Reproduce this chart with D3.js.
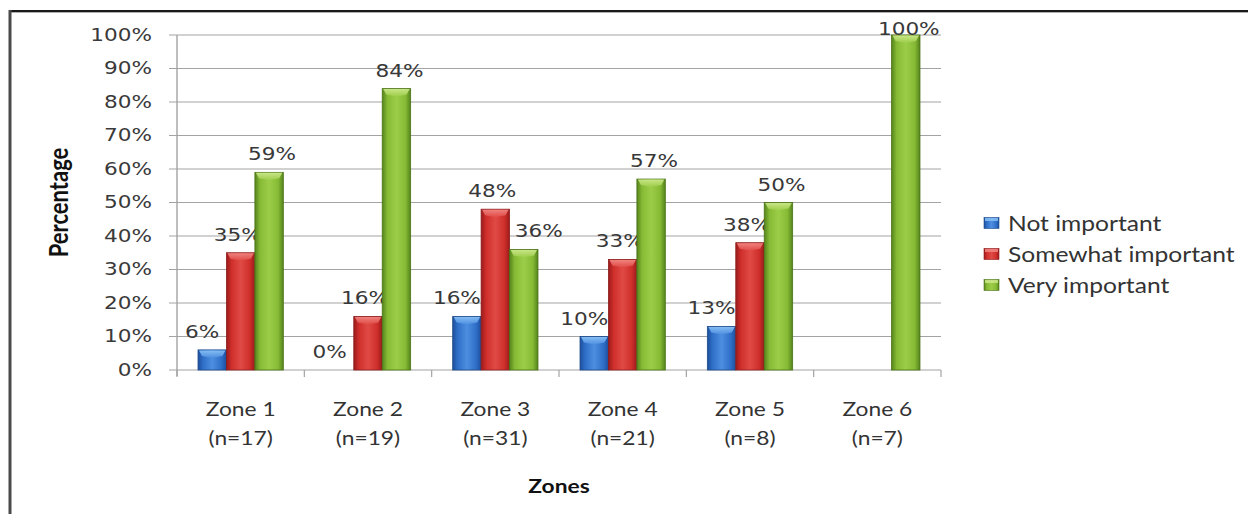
<!DOCTYPE html>
<html>
<head>
<meta charset="utf-8">
<script src="https://cdn.jsdelivr.net/npm/d3@7/dist/d3.min.js"></script>
<style>
  html, body { margin: 0; padding: 0; background: #fff; }
  svg { display: block; }
</style>
</head>
<body>
<svg id="chart" width="1248" height="514"></svg>
<script>
// Importance ratings by zone (percent of respondents)
const zones = ["Zone 1", "Zone 2", "Zone 3", "Zone 4", "Zone 5", "Zone 6"];
const zoneCounts = ["(n=17)", "(n=19)", "(n=31)", "(n=21)", "(n=8)", "(n=7)"];
const seriesNames = ["Not important", "Somewhat important", "Very important"];
const notImportant = [6, 0, 16, 10, 13, null];
const somewhatImportant = [35, 16, 48, 33, 38, null];
const veryImportant = [59, 84, 36, 57, 50, 100];
const yTicks = [0, 10, 20, 30, 40, 50, 60, 70, 80, 90, 100];

const seriesValues = [notImportant, somewhatImportant, veryImportant];

// Look of each series: edge / body / highlight / bevel colours, label nudge
const palette = [
  { edge: "#1d4f9c", base: "#2f6fc8", light: "#4d8ee0", bevel: "#8cc4f7", stroke: "#1d4a8a", dx: -10 },
  { edge: "#9a1b1b", base: "#cf2f2b", light: "#e04a45", bevel: "#f28a86", stroke: "#8c1c1c", dx: -3 },
  { edge: "#55831c", base: "#86ba35", light: "#9ccd48", bevel: "#cfe98f", stroke: "#4a7416", dx: 3 }
];

const SX = 1.2; // horizontal text stretch

const svg = d3.select("#chart");
const defs = svg.append("defs");

palette.forEach((p, i) => {
  const g = defs.append("linearGradient").attr("id", "body" + i)
    .attr("x1", "0").attr("x2", "1").attr("y1", "0").attr("y2", "0");
  [[0, p.edge], [0.18, p.base], [0.5, p.light], [0.82, p.base], [1, p.edge]]
    .forEach(([o, c]) => g.append("stop").attr("offset", o).attr("stop-color", c));
  const b = defs.append("linearGradient").attr("id", "bevel" + i)
    .attr("x1", "0").attr("x2", "0").attr("y1", "0").attr("y2", "1");
  b.append("stop").attr("offset", 0).attr("stop-color", p.bevel);
  b.append("stop").attr("offset", 1).attr("stop-color", p.light);
});

// Frame lines
svg.append("line").attr("x1", 9).attr("x2", 1248).attr("y1", 11).attr("y2", 11)
  .attr("stroke", "#1a1a1a").attr("stroke-width", 2);
svg.append("line").attr("x1", 9).attr("x2", 1248).attr("y1", 12.5).attr("y2", 12.5)
  .attr("stroke", "#b0b0b0").attr("stroke-width", 1);
svg.append("line").attr("x1", 10).attr("x2", 10).attr("y1", 10).attr("y2", 514)
  .attr("stroke", "#4a4a4a").attr("stroke-width", 3);

const plot = { left: 177, right: 941, top: 35, bottom: 370 };

const x0 = d3.scaleBand().domain(zones)
  .range([plot.left, plot.right]).paddingInner(0.33).paddingOuter(0.165);
const x1 = d3.scaleBand().domain(seriesNames).range([0, x0.bandwidth()]);
const y = d3.scaleLinear().domain([0, 100]).range([plot.bottom, plot.top]);

function stretchedText(parent, x, yy, str, opts) {
  const t = parent.append("text")
    .attr("transform", `translate(${x},${yy}) scale(${SX},1)`)
    .attr("text-anchor", opts.anchor || "middle")
    .attr("font-family", opts.family)
    .attr("font-size", opts.size)
    .attr("font-weight", opts.weight || "normal")
    .attr("fill", opts.fill || "#333")
    .text(str);
  if (opts.baseline) t.attr("dominant-baseline", opts.baseline);
  return t;
}

const numFont = "'DejaVu Sans', Verdana, sans-serif";
const txtFont = "Lato, 'Open Sans', sans-serif";

// Gridlines and value axis
const grid = svg.append("g");
yTicks.forEach(v => {
  grid.append("line")
    .attr("x1", plot.left - 8).attr("x2", plot.right)
    .attr("y1", y(v)).attr("y2", y(v))
    .attr("stroke", "#a3a3a3").attr("stroke-width", 1.2);
  stretchedText(grid, 152, y(v), v + "%", {
    anchor: "end", family: numFont, size: 18, fill: "#3a3a3a", baseline: "central"
  });
});
grid.append("line")
  .attr("x1", plot.left).attr("x2", plot.left)
  .attr("y1", plot.top).attr("y2", plot.bottom + 6)
  .attr("stroke", "#a3a3a3").attr("stroke-width", 1.4);

// Category axis ticks between zones
const step = x0.step();
d3.range(zones.length + 1).forEach(i => {
  const xx = plot.left + i * step;
  grid.append("line").attr("x1", xx).attr("x2", xx)
    .attr("y1", plot.bottom).attr("y2", plot.bottom + 7)
    .attr("stroke", "#a3a3a3").attr("stroke-width", 1.2);
});

// Bars
const bars = svg.append("g");
zones.forEach((z, zi) => {
  seriesNames.forEach((s, si) => {
    const v = seriesValues[si][zi];
    if (v === null || v === undefined) return;
    const bx = x0(z) + x1(s);
    const bw = x1.bandwidth();
    const top = y(v);
    const h = y(0) - top;
    if (h > 0) {
      bars.append("rect")
        .attr("x", bx).attr("y", top).attr("width", bw).attr("height", h)
        .attr("fill", `url(#body${si})`)
        .attr("stroke", palette[si].stroke).attr("stroke-width", 0.8);
      const bev = Math.min(8, h);
      bars.append("polygon")
        .attr("points", [
          [bx + 1, top + 0.5], [bx + bw - 1, top + 0.5],
          [bx + bw - 4, top + bev * 0.75], [bx + bw / 2, top + bev],
          [bx + 4, top + bev * 0.75]
        ].map(p => p.join(",")).join(" "))
        .attr("fill", `url(#bevel${si})`).attr("opacity", 0.9);
    }
    // value label; step aside when the bar to the left stands taller
    const prev = si > 0 ? seriesValues[si - 1][zi] : null;
    const shift = (prev !== null && prev > v + 5) ? 12 : 0;
    const ly = Math.max(top - 12, y(100));
    stretchedText(bars, bx + bw / 2 + palette[si].dx + shift, ly, v + "%", {
      family: numFont, size: 18, fill: "#383838"
    });
  });
});

// Category labels
zones.forEach((z, zi) => {
  const cx = x0(z) + x0.bandwidth() / 2;
  stretchedText(svg, cx, 408, z, { family: txtFont, size: 19, fill: "#333", baseline: "central" });
  stretchedText(svg, cx, 437, zoneCounts[zi], { family: txtFont, size: 19, fill: "#333", baseline: "central" });
});

// Axis titles
stretchedText(svg, (plot.left + plot.right) / 2, 485, "Zones", {
  family: txtFont, size: 19, weight: "bold", fill: "#111", baseline: "central"
});
svg.append("text")
  .attr("transform", `translate(58,${(plot.top + plot.bottom) / 2}) scale(${SX},1) rotate(-90)`)
  .attr("text-anchor", "middle").attr("dominant-baseline", "central")
  .attr("font-family", txtFont).attr("font-size", 22).attr("font-weight", "bold")
  .attr("fill", "#111").text("Percentage");

// Legend
const legend = svg.append("g");
seriesNames.forEach((s, si) => {
  const ly = 223 + si * 31;
  legend.append("rect").attr("x", 984).attr("y", ly - 5.5).attr("width", 15).attr("height", 11)
    .attr("fill", `url(#body${si})`).attr("stroke", palette[si].stroke).attr("stroke-width", 0.6);
  legend.append("rect").attr("x", 985).attr("y", ly - 5).attr("width", 13).attr("height", 3)
    .attr("fill", palette[si].bevel).attr("opacity", 0.8);
  stretchedText(legend, 1008, ly, s, {
    anchor: "start", family: txtFont, size: 20.5, fill: "#333", baseline: "central"
  });
});
</script>
</body>
</html>
